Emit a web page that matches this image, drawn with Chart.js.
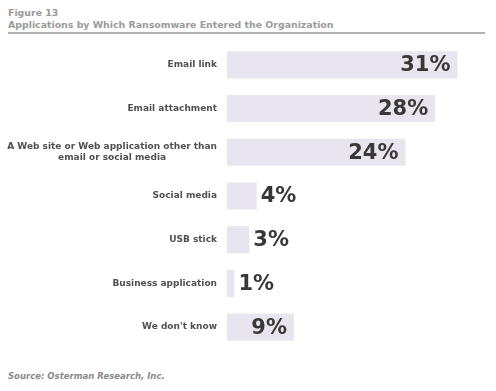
<!DOCTYPE html>
<html lang="en">
    <head>
        <meta charset="utf-8" />
        <script src="https://cdn.jsdelivr.net/npm/chart.js@4.4.1/dist/chart.umd.min.js"></script>
        <title>Figure 13</title>
        <style>
            body { margin: 0; width: 496px; height: 391px; background: #fff; position: relative; font-family: "DejaVu Sans", Verdana, sans-serif; }
            #cabecera { position: absolute; left: 8px; top: 7px; width: 477px; color: #9a9a9a; font-weight: bold; font-size: 9.4px; line-height: 12px; border-bottom: 2px solid #b0b0b0; padding-bottom: 1px; }
            #fuente { position: absolute; left: 8px; top: 371px; color: #8a8a8a; font-weight: bold; font-style: italic; font-size: 8.5px; }
            #caja { position: absolute; left: 0; top: 43px; width: 496px; height: 306px; }
        </style>
    </head>
    <body>
        <div id="cabecera">Figure 13<br>Applications by Which Ransomware Entered the Organization</div>
        <div id="caja"><canvas id="miBarra"></canvas></div>
        <div id="fuente">Source: Osterman Research, Inc.</div>
        <script>
            // datos
            const categorias = [
                ["Email link"],
                ["Email attachment"],
                ["A Web site or Web application other than", "email or social media"],
                ["Social media"],
                ["USB stick"],
                ["Business application"],
                ["We don't know"]
            ];
            const valores = [31, 28, 24, 4, 3, 1, 9];

            // etiquetas del eje y, alineadas a la derecha y centradas entre si
            const etiquetasY = {
                id: "etiquetasY",
                afterDraw(chart) {
                    const ctx = chart.ctx;
                    const y = chart.scales.y;
                    ctx.save();
                    ctx.font = "bold 9px 'DejaVu Sans'";
                    ctx.fillStyle = "#505050";
                    ctx.textBaseline = "middle";
                    ctx.textAlign = "center";
                    categorias.forEach((lineas, i) => {
                        const centro = y.getPixelForValue(i);
                        const ancho = Math.max(...lineas.map(l => ctx.measureText(l).width));
                        const x = chart.chartArea.left - 10 - ancho / 2;
                        const alto = 11;
                        lineas.forEach((l, j) => {
                            ctx.fillText(l, x, centro + (j - (lineas.length - 1) / 2) * alto);
                        });
                    });
                    ctx.restore();
                }
            };

            // porcentajes dentro o fuera de la barra
            const porcentajes = {
                id: "porcentajes",
                afterDatasetsDraw(chart) {
                    const ctx = chart.ctx;
                    const meta = chart.getDatasetMeta(0);
                    ctx.save();
                    ctx.font = "bold 21px 'DejaVu Sans'";
                    ctx.fillStyle = "#383838";
                    ctx.textBaseline = "middle";
                    meta.data.forEach((barra, i) => {
                        const texto = valores[i] + "%";
                        const w = ctx.measureText(texto).width;
                        const anchoBarra = barra.x - barra.base;
                        if (anchoBarra > w + 14) {
                            ctx.textAlign = "right";
                            ctx.fillText(texto, barra.x - 7, barra.y + 1);
                        } else {
                            ctx.textAlign = "left";
                            ctx.fillText(texto, barra.x + 4, barra.y + 1);
                        }
                    });
                    ctx.restore();
                }
            };

            new Chart(document.getElementById("miBarra").getContext("2d"), {
                type: "bar",
                data: {
                    labels: categorias,
                    datasets: [{ data: valores, backgroundColor: "#e9e5ef", barPercentage: 0.62, categoryPercentage: 1 }]
                },
                options: {
                    indexAxis: "y",
                    responsive: true,
                    maintainAspectRatio: false,
                    animation: false,
                    layout: { padding: { right: 11, top: 0, bottom: 0 } },
                    scales: {
                        x: { min: 0, max: 34.7, display: false },
                        y: {
                            grid: { display: false },
                            border: { display: false },
                            ticks: { display: false },
                            afterFit(scale) { scale.width = 227; }
                        }
                    },
                    plugins: { legend: { display: false }, tooltip: { enabled: false } }
                },
                plugins: [etiquetasY, porcentajes]
            });
        </script>
    </body>
</html>
